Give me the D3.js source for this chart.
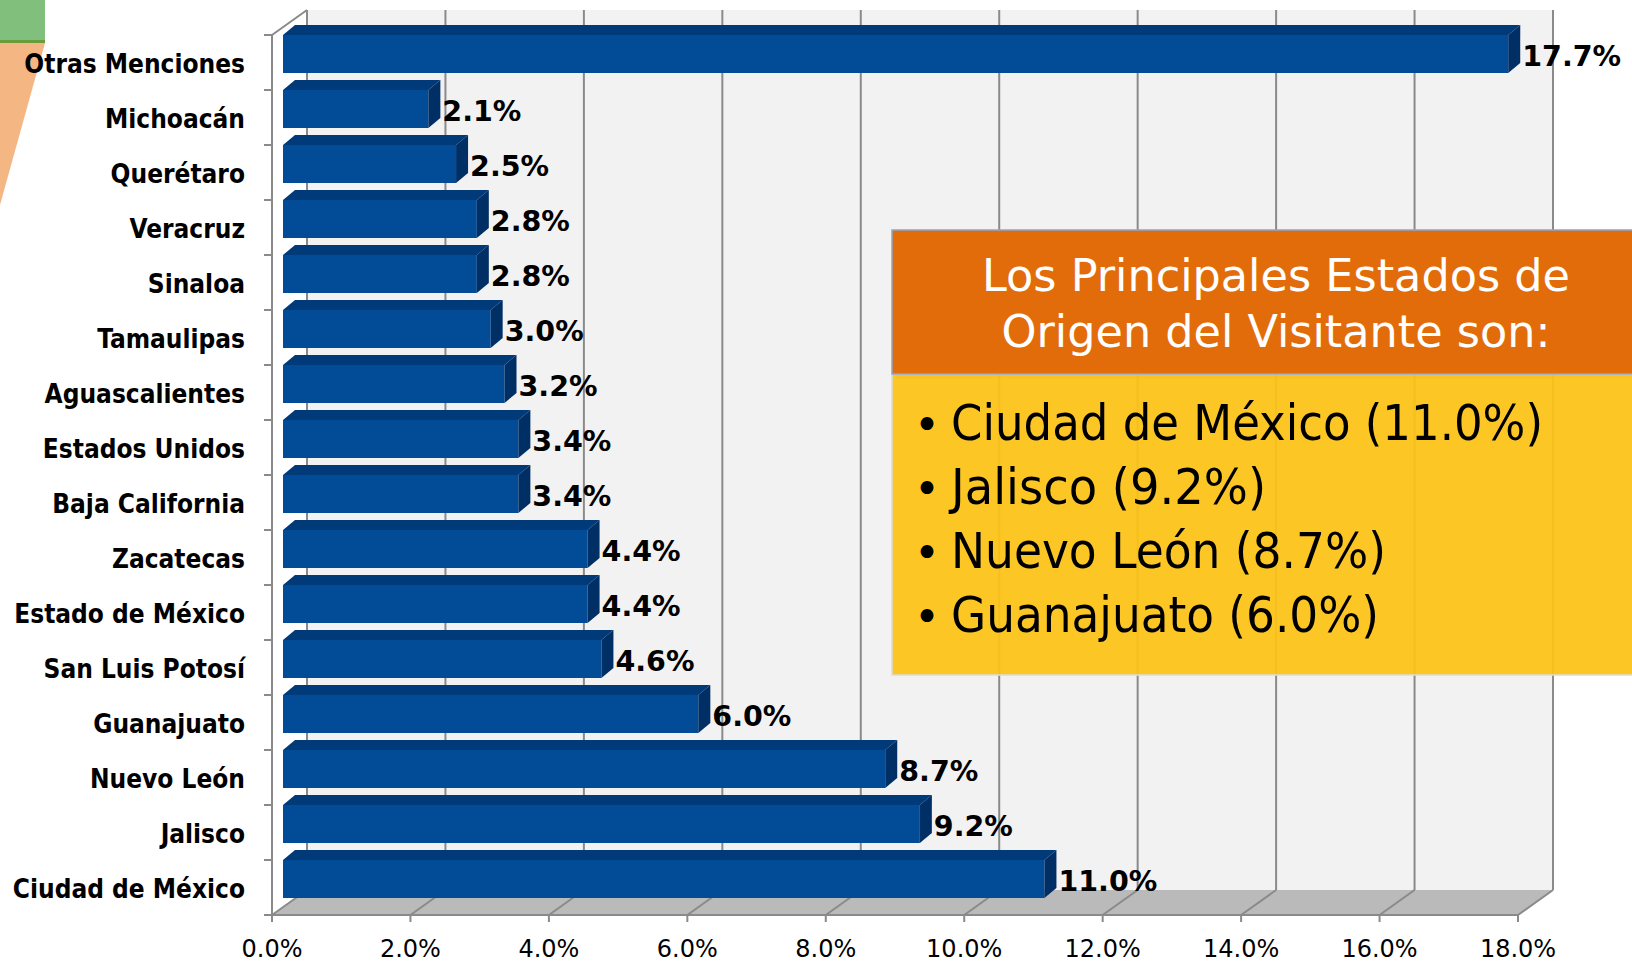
<!DOCTYPE html>
<html>
<head>
<meta charset="utf-8">
<script src="https://cdn.jsdelivr.net/npm/d3@7"></script>
<style>
  body { margin: 0; background: #fff; }
  svg { display: block; }
</style>
</head>
<body>
<svg id="chart" width="1632" height="966"></svg>
<script>
// the data
const categories = ["Otras Menciones", "Michoacán", "Querétaro", "Veracruz", "Sinaloa", "Tamaulipas",
  "Aguascalientes", "Estados Unidos", "Baja California", "Zacatecas", "Estado de México",
  "San Luis Potosí", "Guanajuato", "Nuevo León", "Jalisco", "Ciudad de México"];
const values = [17.7, 2.1, 2.5, 2.8, 2.8, 3.0, 3.2, 3.4, 3.4, 4.4, 4.4, 4.6, 6.0, 8.7, 9.2, 11.0];
const tickValues = [0, 2, 4, 6, 8, 10, 12, 14, 16, 18];

const boxTitle = ["Los Principales Estados de", "Origen del Visitante son:"];
const boxItems = ["Ciudad de México (11.0%)", "Jalisco (9.2%)", "Nuevo León (8.7%)", "Guanajuato (6.0%)"];

let svg = d3.select("#chart");

// plot area (front plane) and depth of the 3d walls
const X0 = 272, X1 = 1518, Y0 = 35, Y1 = 915;
const DX = 35, DY = -25;
// bar depth offsets
const BX = 11, BDX = 12, BDY = -10, BH = 38;

let x = d3.scaleLinear().domain([0, 18]).range([X0, X1]);
let y = d3.scaleBand().domain(categories).range([Y0, Y1]);

const grid = "#8a8a8a";

// decoration top-left
svg.append("polygon")
  .attr("points", [[0, 43], [45, 43], [0, 205]].join(" "))
  .attr("fill", "#f4b683");
svg.append("rect").attr("x", 0).attr("y", 0).attr("width", 45).attr("height", 43).attr("fill", "#80c07c");
svg.append("rect").attr("x", 0).attr("y", 40).attr("width", 45).attr("height", 3).attr("fill", "#6a9c3c");

// back wall
svg.append("rect")
  .attr("x", X0 + DX).attr("y", Y0 + DY)
  .attr("width", X1 - X0).attr("height", Y1 - Y0)
  .attr("fill", "#f2f2f2");

// floor
svg.append("polygon")
  .attr("points", [[X0, Y1], [X1, Y1], [X1 + DX, Y1 + DY], [X0 + DX, Y1 + DY]].join(" "))
  .attr("fill", "#bababa");

// grid lines on back wall and floor
let g = svg.append("g").attr("stroke", grid).attr("stroke-width", 2).attr("fill", "none");
g.selectAll("line.wall")
  .data(tickValues)
  .enter().append("line")
  .attr("x1", d => x(d) + DX).attr("x2", d => x(d) + DX)
  .attr("y1", Y0 + DY).attr("y2", Y1 + DY);
g.selectAll("line.floor")
  .data(tickValues)
  .enter().append("line")
  .attr("x1", d => x(d)).attr("x2", d => x(d) + DX)
  .attr("y1", Y1).attr("y2", Y1 + DY);

// axes lines
g.append("line").attr("x1", X0).attr("x2", X0).attr("y1", Y0).attr("y2", Y1);
g.append("line").attr("x1", X0).attr("x2", X0 + DX).attr("y1", Y0).attr("y2", Y0 + DY);
g.append("line").attr("x1", X0).attr("x2", X1).attr("y1", Y1).attr("y2", Y1);

// category ticks
g.selectAll("line.ytick")
  .data(categories.map(c => y(c)).concat([Y1]))
  .enter().append("line")
  .attr("x1", X0 - 8).attr("x2", X0)
  .attr("y1", d => d).attr("y2", d => d);

// x ticks
g.selectAll("line.xtick")
  .data(tickValues)
  .enter().append("line")
  .attr("x1", d => x(d)).attr("x2", d => x(d))
  .attr("y1", Y1).attr("y2", Y1 + 7);

// x tick labels
svg.append("g").selectAll("text")
  .data(tickValues)
  .enter().append("text")
  .attr("x", d => x(d))
  .attr("y", 957)
  .attr("text-anchor", "middle")
  .attr("font-family", "DejaVu Sans")
  .attr("font-size", 24)
  .attr("fill", "#000")
  .text(d => d.toFixed(1) + "%");

// category labels
svg.append("g").selectAll("text")
  .data(categories)
  .enter().append("text")
  .attr("x", 245)
  .attr("y", d => y(d) + y.bandwidth() / 2 + 1)
  .attr("dominant-baseline", "central")
  .attr("text-anchor", "end")
  .attr("font-family", "DejaVu Sans Condensed, DejaVu Sans")
  .attr("font-stretch", "condensed")
  .attr("font-weight", "bold")
  .attr("font-size", 26)
  .attr("fill", "#000")
  .text(d => d);

// bars
let bars = svg.append("g").selectAll("g")
  .data(categories.map((c, i) => ({name: c, value: values[i]})))
  .enter().append("g");

const xl = () => x(0) + BX;
const xr = d => x(d.value) + BX;

bars.append("rect")
  .attr("x", xl)
  .attr("y", d => y(d.name))
  .attr("width", d => xr(d) - xl())
  .attr("height", BH)
  .attr("fill", "#024b97");
bars.append("polygon")
  .attr("points", d => {
    let t = y(d.name);
    return [[xl(), t], [xl() + BDX, t + BDY], [xr(d) + BDX, t + BDY], [xr(d), t]].join(" ");
  })
  .attr("fill", "#003a78");
bars.append("polygon")
  .attr("points", d => {
    let t = y(d.name);
    return [[xr(d), t], [xr(d) + BDX, t + BDY], [xr(d) + BDX, t + BH + BDY], [xr(d), t + BH]].join(" ");
  })
  .attr("fill", "#002f66");

// data labels
bars.append("text")
  .attr("x", d => xr(d) + BDX + 2)
  .attr("y", d => y(d.name) + BH / 2 + 2)
  .attr("dominant-baseline", "central")
  .attr("font-family", "DejaVu Sans")
  .attr("font-weight", "bold")
  .attr("font-size", 28.5)
  .attr("fill", "#000")
  .text(d => d.value.toFixed(1) + "%");

// text box
let box = svg.append("g");
box.append("rect")
  .attr("x", 896).attr("y", 234).attr("width", 760).attr("height", 145)
  .attr("fill", "#000").attr("opacity", 0.18);
box.append("rect")
  .attr("x", 892).attr("y", 374).attr("width", 760).attr("height", 301)
  .attr("fill", "#fcc416").attr("fill-opacity", 0.94)
  .attr("stroke", "#dcdcdc").attr("stroke-width", 1.5);
box.append("rect")
  .attr("x", 892).attr("y", 230).attr("width", 760).attr("height", 144)
  .attr("fill", "#e36c0a")
  .attr("stroke", "#8fa6c4").attr("stroke-width", 1.5);

const titleWidths = [588, 549];
box.selectAll("text.title")
  .data(boxTitle)
  .enter().append("text")
  .attr("x", (d, i) => 1276 - titleWidths[i] / 2)
  .attr("y", (d, i) => 291 + i * 56)
  .attr("textLength", (d, i) => titleWidths[i])
  .attr("lengthAdjust", "spacingAndGlyphs")
  .attr("font-family", "DejaVu Sans")
  .attr("font-size", 45)
  .attr("fill", "#fff")
  .text(d => d);

const itemWidths = [592, 315, 435, 428];
box.selectAll("text.bullet")
  .data(boxItems)
  .enter().append("text")
  .attr("x", 914)
  .attr("y", (d, i) => 440 + i * 64)
  .attr("font-family", "DejaVu Sans")
  .attr("font-size", 44)
  .attr("fill", "#000")
  .text("•");
box.selectAll("text.item")
  .data(boxItems)
  .enter().append("text")
  .attr("x", 951)
  .attr("y", (d, i) => 440 + i * 64)
  .attr("textLength", (d, i) => itemWidths[i])
  .attr("lengthAdjust", "spacingAndGlyphs")
  .attr("font-family", "DejaVu Sans Condensed, DejaVu Sans")
  .attr("font-stretch", "condensed")
  .attr("font-size", 50)
  .attr("fill", "#000")
  .text(d => d);
</script>
</body>
</html>
